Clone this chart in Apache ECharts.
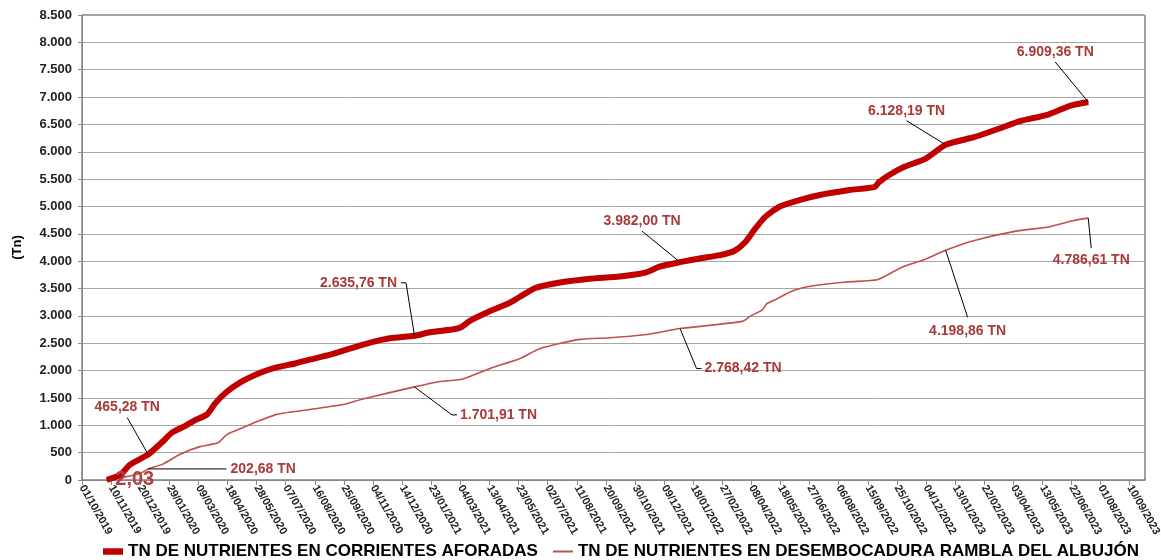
<!DOCTYPE html>
<html>
	<head>
		<meta charset="utf-8">
		<title>TN de nutrientes</title>
		<style>
			html,body{margin:0;padding:0;background:#fff;}
			#main{
				width: 1161px;
				height: 560px;
			}
		</style>
	</head>
	<body>
		<div id="main"></div>
		<script src="https://cdn.jsdelivr.net/npm/echarts@6/dist/echarts.min.js"></script>
		<script>
			// eje X: de 01/10/2019 a 01/10/2023, marcas cada 40 dias
			var startDate = '2019-10-01';
			var endDate = '2023-10-01';
			var tickDays = 40;
			var yTicks = [0, 8500, 500];

			// TN de nutrientes en corrientes aforadas
			var aforadasDates = ['2019-11-04','2019-11-22','2019-12-06','2019-12-31','2020-01-09','2020-01-19','2020-02-02','2020-02-20','2020-03-04','2020-03-21','2020-04-01','2020-04-15','2020-05-05','2020-06-02','2020-06-22','2020-07-20','2020-08-09','2020-09-06','2020-10-03','2020-10-31','2020-11-27','2020-12-31','2021-01-21','2021-02-25','2021-03-06','2021-03-17','2021-04-14','2021-05-11','2021-05-25','2021-06-15','2021-07-19','2021-08-29','2021-10-09','2021-11-13','2021-12-03','2021-12-31','2022-01-27','2022-02-24','2022-03-16','2022-03-30','2022-04-13','2022-04-27','2022-05-17','2022-06-14','2022-07-11','2022-08-21','2022-09-25','2022-09-30','2022-10-15','2022-11-05','2022-12-03','2022-12-31','2023-02-09','2023-03-16','2023-04-12','2023-05-21','2023-06-20','2023-07-15'];
			var aforadasValues = [2.03,90,280,465.28,570,690,870,990,1090,1200,1400,1590,1780,1960,2050,2130,2200,2290,2400,2510,2590,2635.76,2700,2760,2800,2910,3090,3240,3350,3510,3610,3680,3720,3790,3900,3982.00,4050,4110,4190,4340,4590,4810,5000,5120,5210,5300,5360,5440,5580,5730,5870,6128.19,6270,6430,6560,6680,6840,6909.36];

			// TN de nutrientes en desembocadura rambla del Albujon
			var albujonDates = ['2019-11-09','2019-12-20','2019-12-31','2020-01-20','2020-02-13','2020-03-11','2020-04-05','2020-04-17','2020-05-15','2020-06-02','2020-06-25','2020-08-09','2020-09-24','2020-10-21','2020-12-31','2021-02-04','2021-03-06','2021-04-14','2021-05-25','2021-06-21','2021-08-15','2021-09-26','2021-11-15','2021-12-31','2022-03-27','2022-04-06','2022-04-23','2022-04-29','2022-05-13','2022-06-04','2022-07-02','2022-08-17','2022-09-28','2022-10-15','2022-11-01','2022-11-30','2022-12-31','2023-02-06','2023-04-03','2023-05-23','2023-06-24','2023-07-15'];
			var albujonValues = [5,120,202.68,290,470,610,680,830,990,1090,1200,1290,1380,1480,1701.91,1800,1840,2040,2220,2400,2570,2600,2660,2768.42,2900,2990,3110,3220,3310,3460,3550,3620,3660,3770,3890,4020,4198.86,4370,4540,4630,4740,4786.61];

			// etiquetas: indice -> [dx, dy, lado de la linea guia, separacion]
			var aforadasLabels = {0: [28, 0, '', 0], 3: [-21, -47, 'b', 10], 21: [-56, -53, 'r', 4], 35: [-38, -41, 'b', 10], 51: [-39, -34, 'b', 10], 57: [-33, -50, 'b', 10]};
			var albujonLabels = {2: [115, 0, 'l', 4], 14: [84, 28, 'l', 3], 23: [63, 40, 'l', 3], 36: [22, 81, 't', 14], 41: [3, 42, 't', 12]};

			var DAY = 86400000;
			var t0 = Date.parse(startDate);
			function dayOf(s){ return Math.round((Date.parse(s) - t0) / DAY); }
			function fmtNum(v, dec){
				var parts = v.toFixed(dec).split('.');
				var ent = parts[0].replace(/\B(?=(\d{3})+(?!\d))/g, '.');
				return dec ? ent + ',' + parts[1] : ent;
			}
			function fmtDate(d){
				var dt = new Date(t0 + d * DAY);
				var dd = ('0' + dt.getUTCDate()).slice(-2);
				var mm = ('0' + (dt.getUTCMonth() + 1)).slice(-2);
				return dd + '/' + mm + '/' + dt.getUTCFullYear();
			}
			function labelText(v){ return fmtNum(v, 2) + ' TN'; }

			var labelColor = '#A83A3A';
			var labelFont = 'Liberation Sans';
			function buildData(dates, values, labels){
				return dates.map(function(d, i){
					var item = {value: [dayOf(d), values[i]]};
					if (labels[i]) {
						var first = labels[i][2] === '';
						item.label = {
							show: true,
							position: 'inside',
							color: first ? '#B5403F' : labelColor,
							fontWeight: 'bold',
							fontSize: first ? 20 : 14,
							fontFamily: labelFont,
							formatter: first ? fmtNum(values[i], 2) : labelText(values[i])
						};
					}
					return item;
				});
			}
			function layoutOf(labels){
				return function(params){
					var o = labels[params.dataIndex];
					return o ? {dx: o[0], dy: o[1]} : {};
				};
			}

			var nameA = 'TN DE NUTRIENTES EN CORRIENTES AFORADAS';
			var nameB = 'TN DE NUTRIENTES EN DESEMBOCADURA RAMBLA DEL ALBUJÓN';

			var mychart = echarts.init(document.getElementById('main'));
			var option = {
				animation: false,
				textStyle: {fontFamily: 'Liberation Sans'},
				grid: {left: 82, right: 16, top: 15, bottom: 80, outerBoundsMode: 'none', containLabel: false, show: true, borderColor: '#404040', borderWidth: 1},
				legend: {
					left: 98,
					top: 538,
					itemWidth: 20,
					itemHeight: 14,
					itemGap: 15,
					textStyle: {fontSize: 17, fontWeight: 'bold', color: '#000', fontFamily: 'Liberation Sans'},
					data: [
						{name: nameA, icon: 'path://M0 0H40V13H0Z'},
						{name: nameB, icon: 'path://M0 0H40V4H0Z'}
					]
				},
				xAxis: {
					type: 'value',
					min: 0,
					max: dayOf(endDate),
					interval: tickDays,
					axisLine: {show: true, lineStyle: {color: '#888'}},
					axisTick: {show: true, length: 5, lineStyle: {color: '#888'}},
					splitLine: {show: false},
					axisLabel: {
						rotate: -60,
						fontSize: 11,
						fontWeight: 'bold',
						color: '#222',
						margin: 6,
						showMaxLabel: false,
						formatter: function(v){ return fmtDate(v); }
					}
				},
				yAxis: {
					type: 'value',
					min: yTicks[0],
					max: yTicks[1],
					interval: yTicks[2],
					name: '(Tn)',
					nameLocation: 'middle',
					nameGap: 58,
					nameRotate: 90,
					nameTextStyle: {fontSize: 13, fontWeight: 'bold', color: '#000'},
					axisLine: {show: true, lineStyle: {color: '#888'}},
					axisTick: {show: true, length: 4, lineStyle: {color: '#888'}},
					splitLine: {show: true, lineStyle: {color: '#A6A6A6', width: 1}},
					axisLabel: {
						fontSize: 13,
						fontWeight: 'bold',
						color: '#222',
						margin: 10,
						formatter: function(v){ return fmtNum(v, 0); }
					}
				},
				series: [
					{
						name: nameB,
						type: 'line',
						smooth: 0.2,
						showSymbol: true,
						symbol: 'circle',
						symbolSize: 1,
						color: '#C0504D',
						lineStyle: {width: 1.6, color: '#C0504D'},
						labelLayout: layoutOf(albujonLabels),
						data: buildData(albujonDates, albujonValues, albujonLabels)
					},
					{
						name: nameA,
						type: 'line',
						smooth: 0.2,
						showSymbol: true,
						symbol: 'circle',
						symbolSize: 1,
						color: '#C00000',
						lineStyle: {width: 6, color: '#C00000'},
						labelLayout: layoutOf(aforadasLabels),
						data: buildData(aforadasDates, aforadasValues, aforadasLabels)
					}
				]
			};
			mychart.setOption(option);

			// lineas guia: del punto (segun la escala del eje) al lado indicado de la etiqueta
			var ctx = document.createElement('canvas').getContext('2d');
			ctx.font = 'bold 14px "' + labelFont + '"';
			var guides = [];
			[[0, albujonDates, albujonValues, albujonLabels], [1, aforadasDates, aforadasValues, aforadasLabels]].forEach(function(s){
				Object.keys(s[3]).forEach(function(k){
					var i = +k, o = s[3][k];
					if (!o[2]) return;
					var p = mychart.convertToPixel({seriesIndex: s[0]}, [dayOf(s[1][i]), s[2][i]]);
					var w = ctx.measureText(labelText(s[2][i])).width;
					var cx = p[0] + o[0], cy = p[1] + o[1], g = o[3];
					var a, b;
					if (o[2] === 'b') { a = [cx, cy + g]; b = a; }
					else if (o[2] === 't') { a = [cx, cy - g]; b = a; }
					else if (o[2] === 'l') { a = [cx - w / 2 - g, cy]; b = [cx - w / 2 - g - 5, cy]; }
					else { a = [cx + w / 2 + g, cy]; b = [cx + w / 2 + g + 5, cy]; }
					guides.push({
						type: 'polyline',
						silent: true,
						z: 100,
						shape: {points: [a, b, p]},
						style: {stroke: '#000', lineWidth: 1, fill: null}
					});
				});
			});
			mychart.setOption({graphic: guides});
		</script>
	</body>
</html>
